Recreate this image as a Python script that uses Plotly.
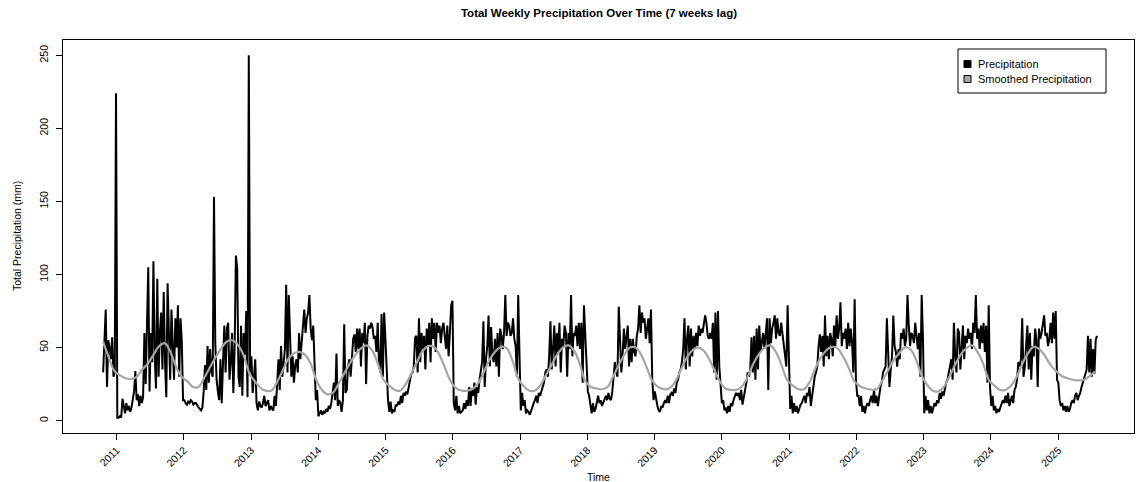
import pandas as pd
import plotly.graph_objects as go

# ---------------- data (weekly totals, mm) ----------------
start_date = "2010-10-20"

precip_2010 = [33, 55, 76, 23, 55, 50, 42, 57, 30, 33, 224]
precip_2011 = [2, 2, 3, 2, 15, 8, 5, 12, 7, 10, 6, 9, 14, 20, 34, 14, 18, 10, 17, 12, 16, 60, 25, 70, 105, 20,
               60, 40, 109, 45, 22, 97, 30, 60, 74, 35, 88, 40, 16, 94, 55, 28, 76, 45, 28, 70, 50, 79, 30, 70, 55, 14]
precip_2012 = [14, 12, 11, 13, 12, 14, 13, 11, 12, 12, 10, 9, 8, 7, 9, 20, 38, 21, 51, 26, 49, 33, 30, 153, 53, 28,
               20, 14, 42, 12, 40, 65, 33, 63, 67, 28, 40, 60, 19, 50, 113, 104, 30, 23, 65, 17, 60, 45, 75, 16, 250, 33]
precip_2013 = [44, 19, 30, 42, 12, 7, 13, 10, 9, 12, 17, 10, 12, 14, 7, 10, 8, 7, 17, 10, 25, 42, 21, 51, 30, 40,
               49, 93, 33, 86, 50, 30, 44, 26, 38, 42, 33, 60, 42, 55, 67, 76, 60, 70, 74, 86, 63, 55, 65, 42, 14, 21]
precip_2014 = [3, 5, 7, 4, 6, 5, 8, 6, 10, 8, 12, 19, 26, 14, 46, 10, 14, 12, 6, 14, 66, 19, 21, 37, 42, 30,
               45, 56, 59, 47, 63, 49, 63, 37, 60, 53, 67, 25, 58, 65, 63, 67, 64, 56, 58, 47, 67, 40, 33, 73, 30, 74, 56]
precip_2015 = [28, 14, 6, 13, 5, 7, 6, 11, 10, 13, 11, 17, 12, 19, 17, 20, 18, 23, 26, 32, 33, 37, 57, 58, 33, 70,
               40, 60, 49, 58, 35, 63, 51, 67, 40, 70, 56, 67, 47, 67, 60, 65, 53, 63, 67, 55, 49, 65, 44, 60, 79, 82]
precip_2016 = [12, 7, 17, 5, 10, 5, 6, 7, 12, 8, 14, 10, 23, 10, 21, 17, 26, 11, 23, 19, 28, 33, 40, 68, 23, 42,
               51, 72, 37, 64, 44, 40, 56, 37, 60, 30, 63, 58, 49, 60, 86, 58, 67, 65, 58, 60, 70, 56, 51, 30, 86, 45]
precip_2017 = [7, 19, 10, 14, 5, 7, 6, 4, 7, 10, 12, 14, 17, 12, 19, 17, 20, 23, 26, 33, 35, 30, 44, 68, 35, 49,
               65, 37, 60, 47, 67, 33, 56, 51, 65, 60, 30, 60, 49, 86, 44, 60, 58, 65, 51, 67, 49, 67, 26, 79, 56, 35]
precip_2018 = [20, 17, 12, 5, 12, 6, 8, 14, 17, 12, 14, 10, 12, 15, 17, 14, 19, 15, 14, 20, 28, 40, 33, 30, 78, 49,
               33, 45, 63, 49, 60, 65, 37, 56, 40, 56, 47, 44, 58, 63, 79, 60, 74, 67, 70, 56, 63, 70, 53, 76, 28, 14]
precip_2019 = [20, 14, 10, 7, 6, 10, 9, 12, 14, 12, 17, 12, 18, 19, 17, 22, 19, 26, 28, 33, 35, 40, 49, 70, 35, 56,
               65, 37, 63, 44, 58, 49, 60, 51, 65, 58, 63, 60, 67, 72, 67, 58, 56, 60, 56, 67, 33, 74, 28, 75, 37, 26]
precip_2020 = [12, 14, 7, 9, 5, 10, 6, 12, 10, 14, 17, 19, 17, 19, 14, 21, 11, 16, 19, 26, 33, 30, 35, 57, 33, 58,
               28, 63, 35, 65, 47, 56, 60, 49, 63, 70, 21, 70, 53, 63, 67, 72, 56, 70, 60, 58, 67, 60, 49, 42, 37, 79, 40]
precip_2021 = [8, 17, 5, 12, 6, 10, 5, 8, 11, 12, 14, 17, 12, 19, 17, 23, 10, 17, 26, 30, 33, 37, 51, 59, 47, 58,
               37, 72, 44, 58, 42, 60, 56, 44, 65, 51, 72, 56, 63, 81, 51, 60, 56, 63, 49, 67, 51, 63, 53, 33, 83, 28]
precip_2022 = [17, 17, 10, 17, 6, 10, 5, 10, 12, 10, 14, 17, 12, 21, 12, 17, 10, 19, 23, 26, 33, 35, 37, 70, 44, 23,
               35, 44, 72, 51, 47, 37, 49, 42, 60, 56, 63, 51, 56, 86, 65, 51, 60, 58, 53, 67, 58, 49, 60, 30, 86, 56]
precip_2023 = [5, 17, 7, 14, 5, 10, 5, 9, 12, 10, 14, 12, 19, 15, 20, 17, 23, 26, 28, 33, 37, 42, 28, 67, 44, 33,
               63, 60, 35, 56, 65, 42, 58, 53, 63, 56, 60, 49, 67, 60, 86, 56, 63, 49, 65, 53, 67, 47, 65, 26, 79, 23]
precip_2024 = [10, 17, 7, 10, 5, 8, 6, 9, 12, 14, 12, 17, 12, 19, 10, 14, 17, 12, 21, 23, 28, 40, 37, 42, 70, 30,
               37, 51, 65, 35, 60, 28, 51, 44, 63, 56, 23, 63, 56, 60, 65, 72, 58, 60, 51, 56, 67, 53, 74, 56, 75, 28]
precip_2025 = [26, 14, 10, 12, 7, 10, 6, 10, 6, 8, 12, 14, 12, 17, 19, 14, 17, 19, 23, 26, 30, 33, 35, 58, 33, 56,
               30, 49, 32, 55, 58]

# smoothed series, monthly (20th of each month)
smooth_2010 = [54, 43, 34]
smooth_2011 = [31, 29, 28.5, 30, 35, 39, 45, 51, 53, 47, 37, 30]
smooth_2012 = [27, 23, 23, 29, 36, 43, 49, 54, 55, 52, 45, 33]
smooth_2013 = [27, 22.5, 20.5, 20.5, 26, 34, 42, 46, 47, 45, 39, 28]
smooth_2014 = [21, 18, 19, 25, 32, 39, 45, 49.5, 51.5, 48, 39, 28]
smooth_2015 = [24, 21, 20.5, 25, 32, 40, 47.5, 51, 50.5, 45, 36, 27]
smooth_2016 = [22, 20.5, 20.5, 22, 26, 34, 42, 47.5, 50.5, 49.5, 41, 29]
smooth_2017 = [23.5, 20.5, 20.5, 24, 31, 38, 45, 50, 51.5, 48, 39, 27]
smooth_2018 = [23, 22, 21.5, 23, 30, 38, 45, 50, 50, 45, 36, 27]
smooth_2019 = [23, 21.5, 22, 26, 34, 42, 47.5, 50, 48.5, 43, 35, 27]
smooth_2020 = [22, 21, 21, 23.5, 30, 39, 45.5, 50, 51.5, 47, 38, 28]
smooth_2021 = [24, 21.5, 21.5, 26, 35, 43, 48, 50.5, 49.5, 44, 36, 27]
smooth_2022 = [23.5, 22, 21.2, 21.5, 27, 34, 41, 46, 50, 49, 42, 31]
smooth_2023 = [24.5, 20.5, 20, 23, 30, 38, 45, 49.5, 51.5, 47, 39, 28]
smooth_2024 = [24, 21, 21, 24, 30, 39, 46, 50.5, 49, 44.5, 38, 34]
smooth_2025 = [30.5, 29, 28, 27.5, 28, 30.5, 33.5]

year_ticks = list(range(2011, 2026))
y_ticks = [0, 50, 100, 150, 200, 250]

precip = (precip_2010 + precip_2011 + precip_2012 + precip_2013 + precip_2014 + precip_2015 +
          precip_2016 + precip_2017 + precip_2018 + precip_2019 + precip_2020 + precip_2021 +
          precip_2022 + precip_2023 + precip_2024 + precip_2025)
smooth = (smooth_2010 + smooth_2011 + smooth_2012 + smooth_2013 + smooth_2014 + smooth_2015 +
          smooth_2016 + smooth_2017 + smooth_2018 + smooth_2019 + smooth_2020 + smooth_2021 +
          smooth_2022 + smooth_2023 + smooth_2024 + smooth_2025)

dates = pd.date_range(start_date, periods=len(precip), freq="7D")
smooth_dates = pd.date_range(start_date, periods=len(smooth), freq=pd.DateOffset(months=1))

# ---------------- figure ----------------
W, H = 1140, 482
L, R, T, B = 63, 6, 40, 49
PW, PH = W - L - R, H - T - B
FONT = "Liberation Sans, Arial, Helvetica, sans-serif"


def fx(px):
    return (px - L) / PW


def fy(py):
    return (H - B - py) / PH


fig = go.Figure()
fig.add_trace(go.Scatter(x=dates, y=precip, mode="lines", name="Precipitation",
                         line=dict(color="black", width=2), showlegend=False))
fig.add_trace(go.Scatter(x=smooth_dates, y=smooth, mode="lines", name="Smoothed Precipitation",
                         line=dict(color="#A6A6A6", width=2.2, shape="spline", smoothing=1.0),
                         showlegend=False))

# legend (R style, filled boxes)
legend_items = [("Precipitation", "black"), ("Smoothed Precipitation", "#A6A6A6")]
shapes = [dict(type="rect", xref="paper", yref="paper", x0=fx(958), x1=fx(1106), y0=fy(93), y1=fy(49),
               line=dict(color="black", width=1), fillcolor="white", layer="above")]
annotations = []
for i, (lab, col) in enumerate(legend_items):
    cy = 64 + 15 * i
    shapes.append(dict(type="rect", xref="paper", yref="paper", x0=fx(964), x1=fx(971),
                       y0=fy(cy + 3.5), y1=fy(cy - 3.5), line=dict(color="black", width=1),
                       fillcolor=col, layer="above"))
    annotations.append(dict(text=lab, xref="paper", yref="paper", x=fx(976), y=fy(cy),
                            xanchor="left", yanchor="middle", showarrow=False,
                            font=dict(size=11, color="black", family=FONT)))

annotations.append(dict(text="Time", xref="paper", yref="paper", x=fx(598), y=fy(477),
                        xanchor="center", yanchor="middle", showarrow=False,
                        font=dict(size=10.5, color="black", family=FONT)))
annotations.append(dict(text="Total Precipitation (mm)", xref="paper", yref="paper", x=fx(17),
                        y=fy(236), xanchor="center", yanchor="middle", textangle=-90,
                        showarrow=False, font=dict(size=10.5, color="black", family=FONT)))

fig.update_layout(
    width=W, height=H,
    margin=dict(l=L, r=R, t=T, b=B, autoexpand=False),
    paper_bgcolor="white", plot_bgcolor="white",
    font=dict(family=FONT, size=10.5, color="black"),
    title=dict(text="<b>Total Weekly Precipitation Over Time (7 weeks lag)</b>",
               x=fx(599), xref="paper", xanchor="center", y=1 - 13 / H, yref="container",
               yanchor="middle", font=dict(size=11.5, family=FONT, color="black")),
    shapes=shapes, annotations=annotations, showlegend=False,
)
fig.update_xaxes(
    type="date", range=["2010-03-16", "2026-02-16"],
    tickvals=[f"{y}-01-01" for y in year_ticks], ticktext=[str(y) for y in year_ticks],
    tickangle=-45, ticks="outside", ticklen=6, tickwidth=1, tickcolor="black",
    showline=True, mirror=True, linecolor="black", linewidth=1,
    showgrid=False, zeroline=False, tickfont=dict(size=10.5, family=FONT, color="black"),
)
fig.update_yaxes(
    range=[-8.46, 260.46], tickvals=y_ticks, ticktext=[str(v) for v in y_ticks],
    tickangle=-90, ticks="outside", ticklen=6, tickwidth=1, tickcolor="black",
    ticklabelstandoff=4,
    showline=True, mirror=True, linecolor="black", linewidth=1,
    showgrid=False, zeroline=False, tickfont=dict(size=10.5, family=FONT, color="black"),
)

fig.write_html("out.html")
